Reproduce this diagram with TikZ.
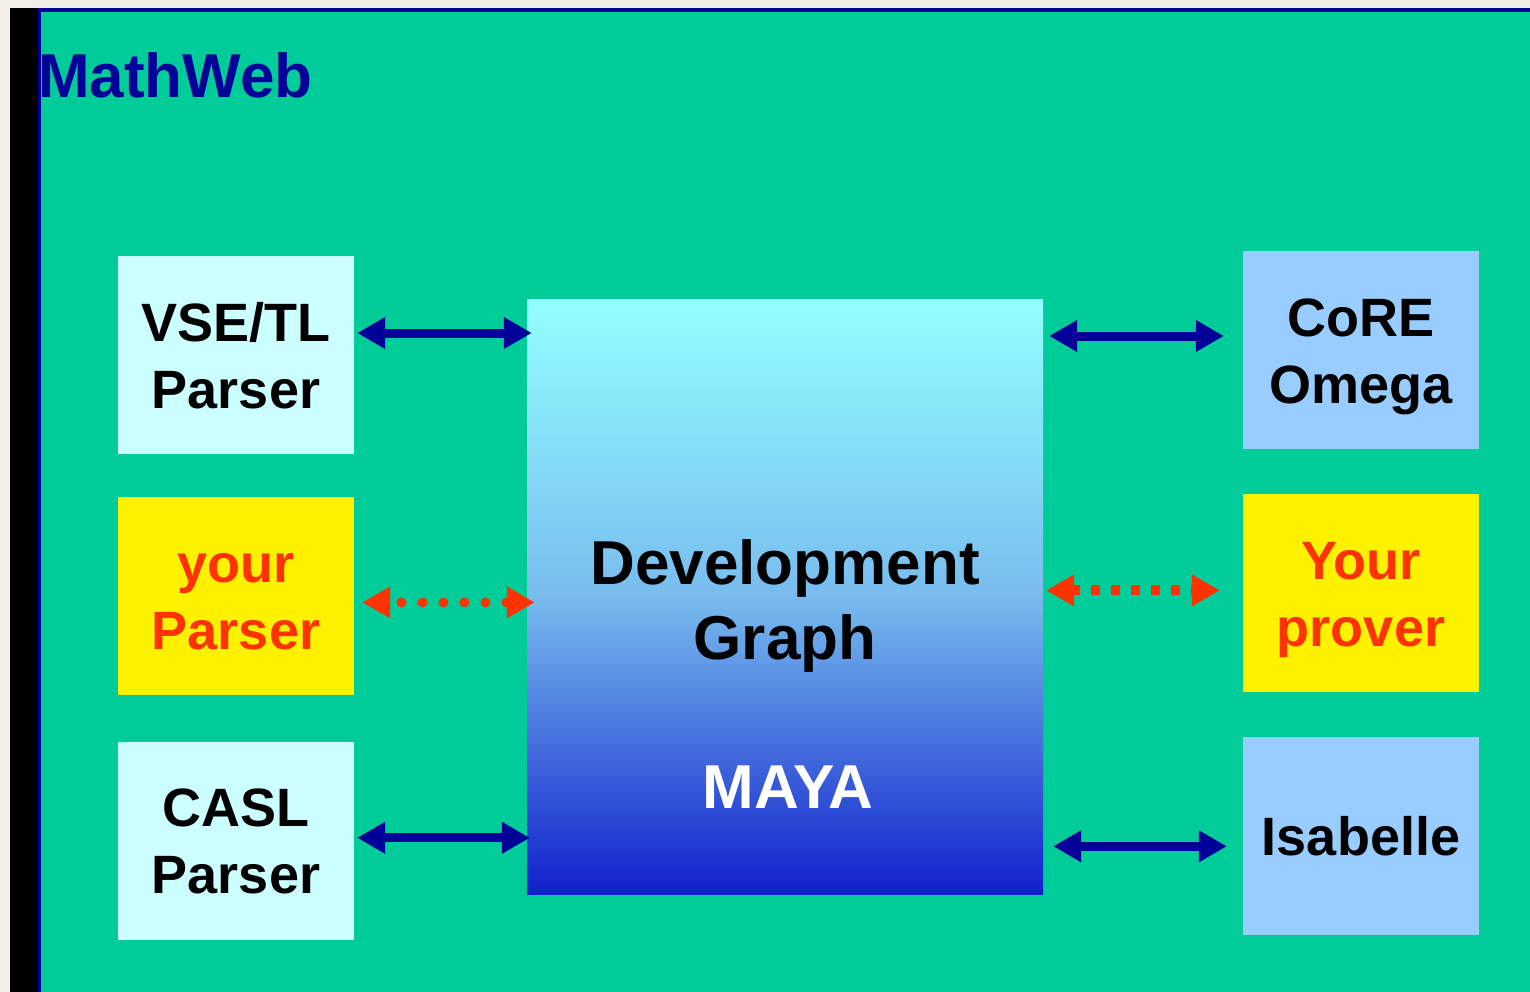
\documentclass[tikz,border=0pt]{standalone}
\usepackage{fontspec}
\setmainfont{Liberation Sans}
\usepackage{xcolor}
\usetikzlibrary{arrows.meta, positioning, shadings}

\definecolor{sheet}{HTML}{F2F0E6}
\definecolor{slide}{HTML}{00CC99}
\definecolor{navy}{HTML}{000099}
\definecolor{palecyan}{HTML}{CCFFFF}
\definecolor{paleblue}{HTML}{99CCFF}
\definecolor{signal}{HTML}{FF3300}
\definecolor{gtop}{HTML}{93FFFF}
\definecolor{gmid}{HTML}{78BCEE}
\definecolor{gbot}{HTML}{1020CC}

% one text line of a box, cap height, no descender
\newcommand{\boxline}[1]{\raisebox{0pt}[39pt][0pt]{#1}}

\begin{document}
\begin{tikzpicture}[
    x=1pt, y=-1pt,
    node distance=44pt,
    tool/.style={rectangle, inner sep=0pt, minimum width=236pt, minimum height=198pt, font=\fontsize{54}{67}\selectfont\bfseries, align=center},
    cyanbox/.style={tool, fill=palecyan},
    bluebox/.style={tool, fill=paleblue},
    yellowbox/.style={tool, fill=yellow, text=signal},
    duplex/.style={{Triangle[length=28pt,width=30pt]}-{Triangle[length=28pt,width=30pt]}, line width=9pt, navy},
    dotlink/.style={{Triangle[length=28pt,width=30pt]}-{Triangle[length=28pt,width=30pt]}, line width=10pt, signal},
    title/.style={font=\fontsize{62}{75}\selectfont\bfseries, inner sep=0pt}
]

% Slide background
\fill[sheet] (0,0) rectangle (1530,992);
\fill[navy] (38,8) rectangle (1530,992);
\fill[slide] (41,12) rectangle (1530,992);
\fill[black] (10,8) rectangle (38,992);

\node[title, text=navy, anchor=base west] (head) at (38,98) {MathWeb};

% Development graph
\node[rectangle, minimum width=516pt, minimum height=595pt, inner sep=0pt,
      top color=gtop, bottom color=gbot, middle color=gmid] (dg) at (785,596.5) {};
\node[title, align=center] (dgname) at (785,606) {Development\\Graph};
\node[title, text=white, anchor=base] (maya) at (788,808) {MAYA};

% Parsers
\node[cyanbox] (vse) at (236,355) {\boxline{VSE/TL}\\\boxline{Parser}};
\node[yellowbox, below=43pt of vse] (yparser) {\boxline{your}\\\boxline{Parser}};
\node[cyanbox, below=46pt of yparser] (casl) {\boxline{CASL}\\\boxline{Parser}};

% Provers
\node[bluebox] (core) at (1361,350) {\boxline{CoRE}\\\boxline{Omega}};
\node[yellowbox, below=45pt of core] (yprover) {\boxline{Your}\\\boxline{prover}};
\node[bluebox, below=of yprover] (isa) {\boxline{Isabelle}};

% Arrows - parsers
\draw[duplex, shorten <=3pt, shorten >=-5pt] ([yshift=22pt]vse.east) -- ([yshift=22pt]vse.east -| dg.west);
\draw[dotlink, line cap=round, dash pattern=on 0pt off 21pt, dash phase=8pt, shorten <=8pt, shorten >=-8pt] ([yshift=-6pt]yparser.east) -- ([yshift=-6pt]yparser.east -| dg.west);
\draw[duplex, shorten <=3pt, shorten >=-3pt] ([yshift=3pt]casl.east) -- ([yshift=3pt]casl.east -| dg.west);

% Arrows - provers
\draw[duplex, shorten <=6pt, shorten >=19pt] ([yshift=14pt]dg.east |- core.west) -- ([yshift=14pt]core.west);
\draw[dotlink, dash pattern=on 9pt off 11pt, dash phase=1pt, shorten <=3pt, shorten >=23pt] ([yshift=3pt]dg.east |- yprover.west) -- ([yshift=3pt]yprover.west);
\draw[duplex, shorten <=10pt, shorten >=16pt] ([yshift=-10.5pt]dg.east |- isa.west) -- ([yshift=-10.5pt]isa.west);

\end{tikzpicture}
\end{document}
